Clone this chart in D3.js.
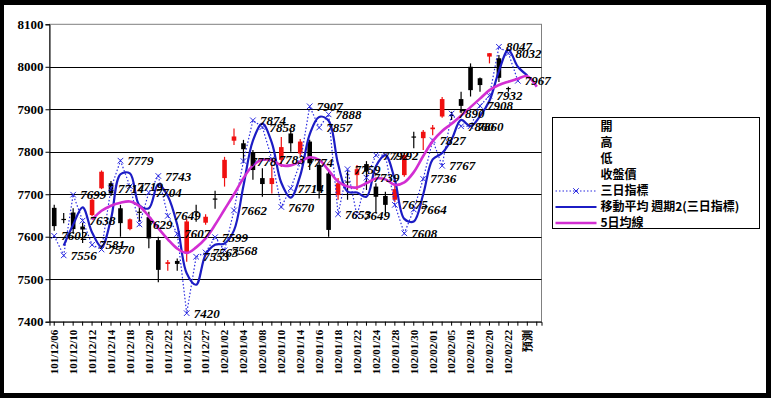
<!DOCTYPE html>
<html>
<head>
<meta charset="utf-8">
<script src="https://cdn.jsdelivr.net/npm/d3@7"></script>
<style>
  body { margin: 0; background: #000; }
  svg { display: block; }
</style>
</head>
<body>
<svg id="chart" width="771" height="398"></svg>
<script>
// trading days (labels shown every 2nd day), last two are the forecast slots
const dates = ['101/12/06','101/12/07','101/12/10','101/12/11','101/12/12','101/12/13','101/12/14','101/12/17','101/12/18','101/12/19',
  '101/12/20','101/12/21','101/12/22','101/12/24','101/12/25','101/12/26','101/12/27','101/12/28','102/01/02','102/01/03',
  '102/01/04','102/01/07','102/01/08','102/01/09','102/01/10','102/01/11','102/01/14','102/01/15','102/01/16','102/01/17',
  '102/01/18','102/01/21','102/01/22','102/01/23','102/01/24','102/01/25','102/01/28','102/01/29','102/01/30','102/01/31',
  '102/02/01','102/02/04','102/02/05','102/02/06','102/02/18','102/02/19','102/02/20','102/02/21','102/02/22','102/02/23',
  '預測',''];

// 開 / 高 / 低 / 收盤價
const opens = [7668,7642,7657,7624,7651,7714,7726,7667,7618,7659, 7646,7592,7536,7543,7561,7660,7633,7690,7738,7826,
  7820,7798,7738,7724,7781,7843,7796,7824,7769,7749, 7698,7730,7745,7771,7718,7696,7687,7745,7836,7832,
  7853,7883,7887,7924,8000,7973,8024,8020,7950];
const highs = [7675,7656,7667,7633,7690,7756,7731,7675,7643,7675, 7659,7600,7545,7549,7642,7675,7653,7708,7788,7855,
  7828,7804,7761,7769,7835,7851,7830,7828,7778,7757, 7738,7757,7769,7778,7726,7706,7720,7797,7847,7851,
  7863,7929,7894,7941,8008,7975,8032,8028,7953];
const lows = [7614,7632,7607,7585,7648,7712,7696,7600,7615,7636, 7573,7493,7520,7520,7541,7635,7628,7666,7718,7816,
  7774,7734,7694,7702,7764,7800,7790,7757,7690,7600, 7687,7687,7710,7710,7655,7651,7682,7741,7808,7804,
  7839,7880,7875,7891,7930,7941,8008,7964,7941];
const closes = [7625,7640,7618,7617,7687,7753,7702,7632,7641,7657, 7596,7522,7540,7536,7636,7657,7647,7688,7781,7836,
  7806,7757,7724,7738,7811,7820,7824,7773,7708,7616, 7726,7728,7759,7753,7694,7675,7712,7792,7835,7847,
  7857,7924,7885,7908,7945,7957,8032,7974,7948];

// 三日指標
const threeDay = [7602,7556,7699,7638,7581,7570,7714,7779,7719,7629, 7704,7743,7649,7607,7420,7553,7563,7599,7568,7662,
  7778,7874,7858,7783,7670,7714,7774,7907,7857,7888, 7653,7759,7649,7739,7792,7792,7675,7608,7664,7736,
  7827,7767,7890,7860,7860,7908,7932,8047,8032,7967, null,null];

// 移動平均 週期2(三日指標)
const movAvg = [null,7579,7628,7669,7610,7576,7642,7747,7749,7674, 7667,7724,7696,7628,7514,7487,7558,7581,7584,7615,
  7720,7826,7866,7821,7727,7692,7744,7841,7882,7873, 7771,7706,7704,7694,7766,7792,7734,7642,7636,7700,
  7782,7797,7829,7875,7860,7884,7920,7990,8040,8000, 7980,null];

// 5日均線
const ma5 = [null,null,null,null,7640,7661,7673,7680,7683,7672, 7648,7620,7594,7572,7562,7575,7596,7628,7664,7700,
  7738,7768,7781,7780,7768,7768,7777,7787,7781,7756, 7730,7718,7716,7726,7737,7735,7722,7728,7752,7790,
  7825,7849,7866,7885,7905,7925,7945,7957,7965,7972, 7978,7953];

const yTicks = [7400,7500,7600,7700,7800,7900,8000,8100];
const legendNames = ['開','高','低','收盤價','三日指標','移動平均  週期2(三日指標)','5日均線'];

const RED = '#f01010', BLUE = '#1c1cc4', DOT = '#2a2ae0', PINK = '#d22ed2';
const serif = '"Liberation Serif", "Times New Roman", serif';
const cjk = '"Noto Sans CJK TC", "Noto Sans CJK SC", sans-serif';

const svg = d3.select('#chart');
svg.append('rect').attr('x', 4).attr('y', 5).attr('width', 762).attr('height', 388).attr('fill', '#fff');

const plotLeft = 49.5, plotRight = 541.5, plotTop = 24.3, plotBottom = 321.7;
const x = d3.scaleBand().domain(dates).range([plotLeft, plotRight]);
const y = d3.scaleLinear().domain([7400, 8100]).range([plotBottom, plotTop]);
const cx = i => x(dates[i]) + x.bandwidth() / 2;

// plot border + gridlines
svg.append('rect').attr('x', plotLeft).attr('y', plotTop)
  .attr('width', plotRight - plotLeft).attr('height', plotBottom - plotTop)
  .attr('fill', 'none').attr('stroke', '#808080');
svg.append('g').selectAll('line')
  .data(yTicks.filter(t => t > 7400 && t < 8100))
  .join('line')
  .attr('x1', plotLeft).attr('x2', plotRight)
  .attr('y1', d => Math.round(y(d)) + 0.5).attr('y2', d => Math.round(y(d)) + 0.5)
  .attr('stroke', '#000');

// axes
const yAxis = svg.append('g').attr('transform', `translate(${plotLeft},0)`)
  .call(d3.axisLeft(y).tickValues(yTicks).tickSize(4).tickFormat(d3.format('d')));
yAxis.select('.domain').attr('stroke', '#000');
yAxis.selectAll('text').attr('font-family', serif).attr('font-size', 13).attr('font-weight', 'bold')
  .attr('fill', '#000').attr('x', -6);

const xAxis = svg.append('g').attr('transform', `translate(0,${plotBottom})`)
  .call(d3.axisBottom(x).tickSize(4).tickFormat((d, i) => i % 2 ? '' : d));
xAxis.select('.domain').attr('stroke', '#000');
xAxis.selectAll('text')
  .attr('transform', 'rotate(-90)')
  .attr('text-anchor', 'end')
  .attr('x', -8).attr('y', 0).attr('dy', '0.35em')
  .attr('font-family', serif).attr('font-size', 11).attr('font-weight', 'bold').attr('fill', '#000');

// candlesticks
const candles = svg.append('g').selectAll('g')
  .data(opens.map((o, i) => ({ i, o, h: highs[i], l: lows[i], c: closes[i] })))
  .join('g');
candles.append('line')
  .attr('x1', d => cx(d.i)).attr('x2', d => cx(d.i))
  .attr('y1', d => y(d.h)).attr('y2', d => y(d.l))
  .attr('stroke', d => d.c > d.o ? RED : '#000').attr('stroke-width', 1.2);
candles.append('rect')
  .attr('x', d => cx(d.i) - 2.3).attr('width', 4.6)
  .attr('y', d => y(Math.max(d.o, d.c)))
  .attr('height', d => Math.max(1.2, Math.abs(y(d.o) - y(d.c))))
  .attr('fill', d => d.c > d.o ? RED : '#000');

// 三日指標 dotted line with x markers
const line = d3.line().defined(d => d.v != null).x(d => cx(d.i)).y(d => y(d.v));
const pts = arr => arr.map((v, i) => ({ i, v }));

svg.append('path').datum(pts(threeDay))
  .attr('d', line).attr('fill', 'none').attr('stroke', DOT)
  .attr('stroke-width', 1.2).attr('stroke-dasharray', '1.5,2');
svg.append('g').selectAll('path')
  .data(pts(threeDay).filter(d => d.v != null))
  .join('path')
  .attr('d', d3.symbol(d3.symbolX, 22))
  .attr('transform', d => `translate(${cx(d.i)},${y(d.v)})`)
  .attr('fill', 'none').attr('stroke', DOT).attr('stroke-width', 1);

// moving average (blue) and 5-day line (magenta), smoothed
const smooth = d3.line().defined(d => d.v != null).x(d => cx(d.i)).y(d => y(d.v))
  .curve(d3.curveCatmullRom.alpha(0.5));
svg.append('path').datum(pts(movAvg))
  .attr('d', smooth).attr('fill', 'none').attr('stroke', BLUE).attr('stroke-width', 2.2);
svg.append('path').datum(pts(ma5))
  .attr('d', smooth).attr('fill', 'none').attr('stroke', PINK).attr('stroke-width', 2.6);

// data labels for 三日指標
svg.append('g').selectAll('text')
  .data(pts(threeDay).filter(d => d.v != null))
  .join('text')
  .attr('x', d => cx(d.i) + 7).attr('y', d => y(d.v)).attr('dy', '0.35em')
  .attr('font-family', serif).attr('font-style', 'italic').attr('font-weight', 'bold')
  .attr('font-size', 13).attr('fill', '#000')
  .text(d => d.v);

// legend
const legend = svg.append('g').attr('transform', 'translate(552.5,117.5)');
legend.append('rect').attr('width', 207).attr('height', 111).attr('fill', '#fff').attr('stroke', '#000');
const rows = legend.selectAll('g').data(legendNames).join('g')
  .attr('transform', (d, i) => `translate(0,${9.5 + i * 16})`);
rows.append('text').attr('x', 48).attr('dy', '0.35em')
  .attr('font-family', cjk).attr('font-size', 12).attr('font-weight', 'bold').attr('fill', '#000')
  .text(d => d);
rows.filter((d, i) => i === 4).call(g => {
  g.append('line').attr('x1', 3).attr('x2', 44).attr('stroke', DOT).attr('stroke-width', 1.2)
    .attr('stroke-dasharray', '1.5,2');
  g.append('path').attr('d', d3.symbol(d3.symbolX, 22)).attr('transform', 'translate(23.5,0)')
    .attr('fill', 'none').attr('stroke', DOT);
});
rows.filter((d, i) => i === 5).append('line').attr('x1', 3).attr('x2', 44)
  .attr('stroke', BLUE).attr('stroke-width', 2.2);
rows.filter((d, i) => i === 6).append('line').attr('x1', 3).attr('x2', 44)
  .attr('stroke', PINK).attr('stroke-width', 2.6);
</script>
</body>
</html>
